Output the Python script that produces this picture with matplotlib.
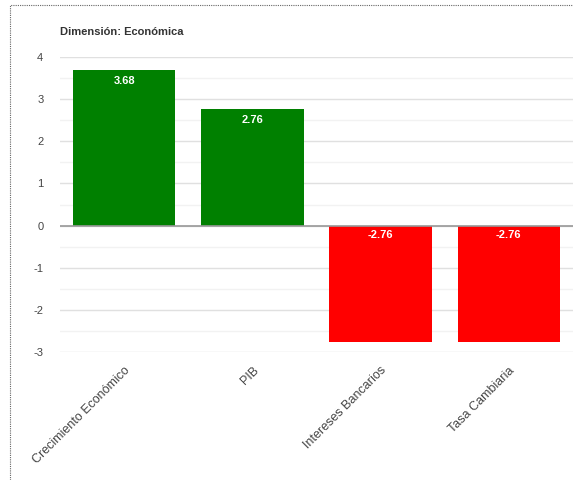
import matplotlib
matplotlib.use('Agg')
import matplotlib.pyplot as plt
from matplotlib.patches import Rectangle

plt.rcParams['font.family'] = ['Liberation Sans', 'DejaVu Sans']
plt.rcParams['axes.unicode_minus'] = False

# data
categories = ['Crecimiento Económico', 'PIB', 'Intereses Bancarios', 'Tasa Cambiaria']
values = [3.68, 2.76, -2.76, -2.76]
labels = ['3.68', '2.76', '-2.76', '-2.76']

fig = plt.figure(figsize=(5.73, 4.8), dpi=100)
ax = fig.add_axes([60 / 573, 1 - 352 / 480, 513 / 573, 295 / 480])

colors = ['#008000' if v >= 0 else '#ff0000' for v in values]
x = list(range(len(categories)))
ax.bar(x, values, width=0.8, color=colors, zorder=3)

ax.set_xlim(-0.5, len(categories) - 0.5)
ax.set_ylim(-3, 4)
ax.set_yticks(range(-3, 5))
ax.set_yticks([i + 0.5 for i in range(-3, 4)], minor=True)
ax.grid(axis='y', which='major', color='#e0e0e0', linewidth=1, zorder=0)
ax.grid(axis='y', which='minor', color='#f2f2f2', linewidth=1, zorder=0)
ax.axhline(0, color='#999999', linewidth=1.2, zorder=4)

for s in ax.spines.values():
    s.set_visible(False)
ax.tick_params(axis='both', which='both', length=0, colors='#444444', labelsize=8)
ax.tick_params(axis='y', pad=12)

ax.set_xticks(x)
ax.set_xticklabels(categories, rotation=45, ha='right', rotation_mode='anchor', fontsize=9)
ax.tick_params(axis='x', pad=9)

# value labels inside bars
for xi, v, lab in zip(x, values, labels):
    if v >= 0:
        ax.annotate(lab, (xi, v), xytext=(0, -4), textcoords='offset points',
                    ha='center', va='top', color='white', fontsize=8, fontweight='bold', zorder=5)
    else:
        ax.annotate(lab, (xi, 0), xytext=(0, -3), textcoords='offset points',
                    ha='center', va='top', color='white', fontsize=8, fontweight='bold', zorder=5)

fig.text(60 / 573, 1 - 32 / 480, 'Dimensión: Económica', fontsize=8, fontweight='bold',
         color='#333333', va='center', ha='left')

# dotted outer border
fig.patches.append(Rectangle((10 / 573, -0.1), 1.2, 1 - 5 / 480 + 0.1, transform=fig.transFigure,
                             fill=False, edgecolor='#666666', linestyle=(0, (1, 1)), linewidth=0.8))

fig.savefig('out.png', dpi=100)
